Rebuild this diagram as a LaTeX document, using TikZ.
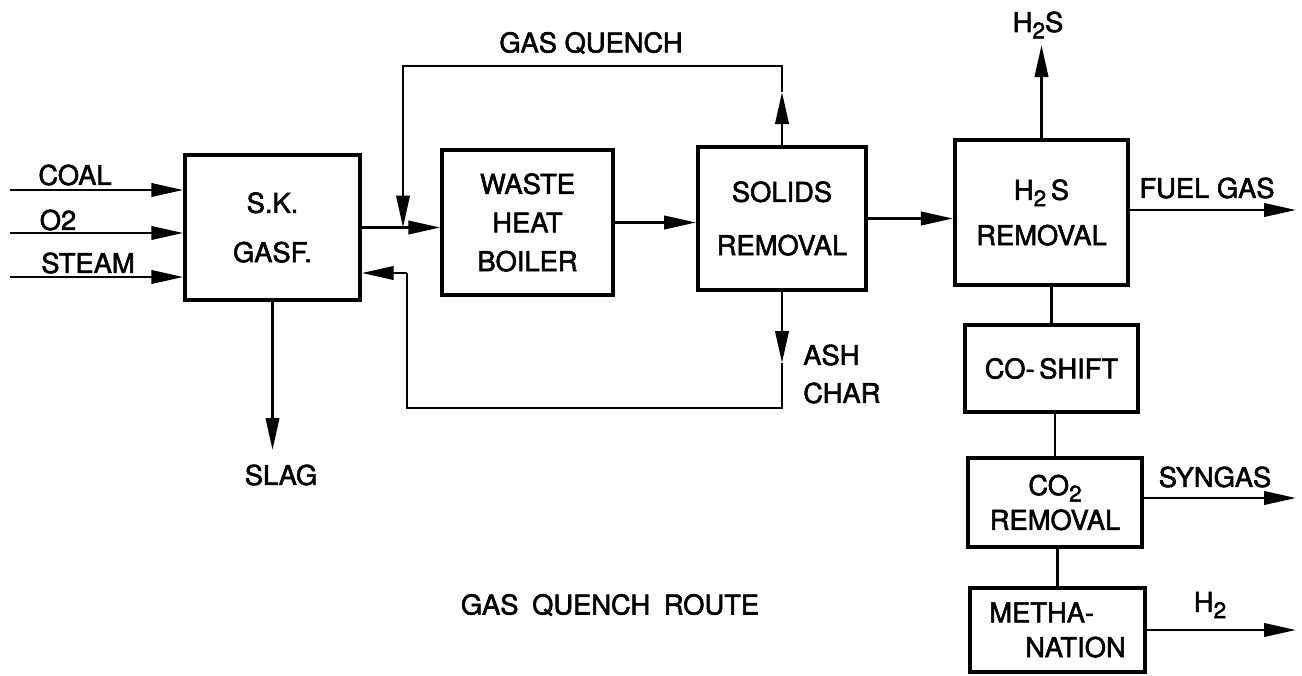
\documentclass[tikz,border=0pt]{standalone}
\usepackage{fontspec}
\setmainfont{TeX Gyre Heros}[FakeBold=2]
\usetikzlibrary{arrows.meta}
\newcommand\subsc[1]{\raisebox{-0.45ex}{\fontsize{17}{17}\selectfont #1}}
\begin{document}
\begin{tikzpicture}[x=0.75pt,y=-0.75pt,
  every node/.style={font=\fontsize{20.5}{22}\selectfont, inner sep=0pt},
  unit/.style={draw, line width=2.8pt, align=center},
  lbl/.style={anchor=center},
  flow/.style={line width=2.1pt, -{Triangle[length=24pt,width=10pt]}},
  plain/.style={line width=2.1pt}]
\useasboundingbox (0,0) rectangle (1302,675);
\fill[white] (0,0) rectangle (1302,675);
% process units
\node[unit, minimum width=131pt, minimum height=109pt, font=\fontsize{20.5}{37}\selectfont] (gasf) at (272.5,227.5) {S.K.\\GASF.};
\node[unit, minimum width=128pt, minimum height=109pt, font=\fontsize{20.5}{29}\selectfont] (whb) at (527.5,222.5) {WASTE\\HEAT\\BOILER};
\node[unit, minimum width=126pt, minimum height=107pt, font=\fontsize{20.5}{40}\selectfont] (solids) at (782,218.5) {SOLIDS\\REMOVAL};
\node[unit, minimum width=130pt, minimum height=109pt, font=\fontsize{20.5}{34}\selectfont] (h2s) at (1041.5,212.5) {H\subsc{2}\,S\\REMOVAL};
\node[unit, minimum width=130pt, minimum height=65pt] (coshift) at (1051.5,368.5) {CO-\,SHIFT};
\node[unit, minimum width=130pt, minimum height=67pt, font=\fontsize{20.5}{26}\selectfont] (co2) at (1055,502.5) {CO\subsc{2}\\REMOVAL};
\node[unit, minimum width=131pt, minimum height=63pt, align=left, font=\fontsize{20.5}{26}\selectfont] (meth) at (1057.5,630) {METHA-\\\hspace{27pt}NATION};
% labels
\node[lbl] (lcoal) at (75,175) {COAL};
\node[lbl] (lo2) at (58,220) {O2};
\node[lbl] (lsteam) at (88,263) {STEAM};
\node[lbl] (lquench) at (591,43) {GAS QUENCH};
\node[lbl, align=left, anchor=west, font=\fontsize{20.5}{28.5}\selectfont] (lash) at (803,374) {ASH\\CHAR};
\node[lbl] (lslag) at (281,475) {SLAG};
\node[lbl] (ltoph2s) at (1038,25) {H\subsc{2}S};
\node[lbl] (lfuel) at (1207,188) {FUEL GAS};
\node[lbl] (lsyn) at (1215,477) {SYNGAS};
\node[lbl] (lh2) at (1210,605) {H\subsc{2}};
\node[lbl] (ltitle) at (610,605) {GAS\hspace{0.5em}QUENCH\hspace{0.5em}ROUTE};
% coordinates
\coordinate (in1) at (10,190);
\coordinate (in2) at (10,233);
\coordinate (in3) at (10,277);
\coordinate (j) at (403,227.5);
\coordinate (qtip) at (782,92);
\coordinate (qr) at (782,66);
\coordinate (ql) at (403,66);
\coordinate (atip) at (782,363);
\coordinate (ab) at (782,408);
\coordinate (al) at (407,408);
\coordinate (at) at (407,273);
\coordinate (slag) at (272.5,450);
\coordinate (h2sout) at (1041.5,45);
\coordinate (fuel) at (1296,210);
\coordinate (syn) at (1296,498);
\coordinate (h2out) at (1296,630);
% feeds
\draw[flow] (in1) -- (in1 -| gasf.west);
\draw[flow] (in2) -- (in2 -| gasf.west);
\draw[flow] (in3) -- (in3 -| gasf.west);
% main line
\draw[flow] (gasf.east) -- (gasf.east -| whb.west);
\draw[flow] (whb.east) -- (whb.east -| solids.west);
\draw[flow] (solids.east) -- (solids.east -| h2s.west);
% gas quench loop
\draw[flow] (solids.north) -- (qtip);
\draw[plain, line join=miter] (qtip) -- (qr) -- (ql) -- ++(0,20);
\draw[flow] (ql) -- (j);
% ash/char return
\draw[flow] (solids.south) -- (atip);
\draw[plain] (atip) -- (ab) -- (al) -- (at);
\draw[flow] (at) -- (at -| gasf.east);
% slag
\draw[flow] (gasf.south) -- (slag);
% downstream
\draw[flow] (h2s.north) -- (h2sout);
\draw[flow] (h2s.east |- fuel) -- (fuel);
\draw[plain] (h2s.south -| coshift.north) -- (coshift.north);
\draw[plain] (coshift.south -| co2.north) -- (co2.north);
\draw[plain] (co2.south -| meth.north) -- (meth.north);
\draw[flow] (co2.east |- syn) -- (syn);
\draw[flow] (meth.east) -- (h2out);
\end{tikzpicture}
\end{document}
